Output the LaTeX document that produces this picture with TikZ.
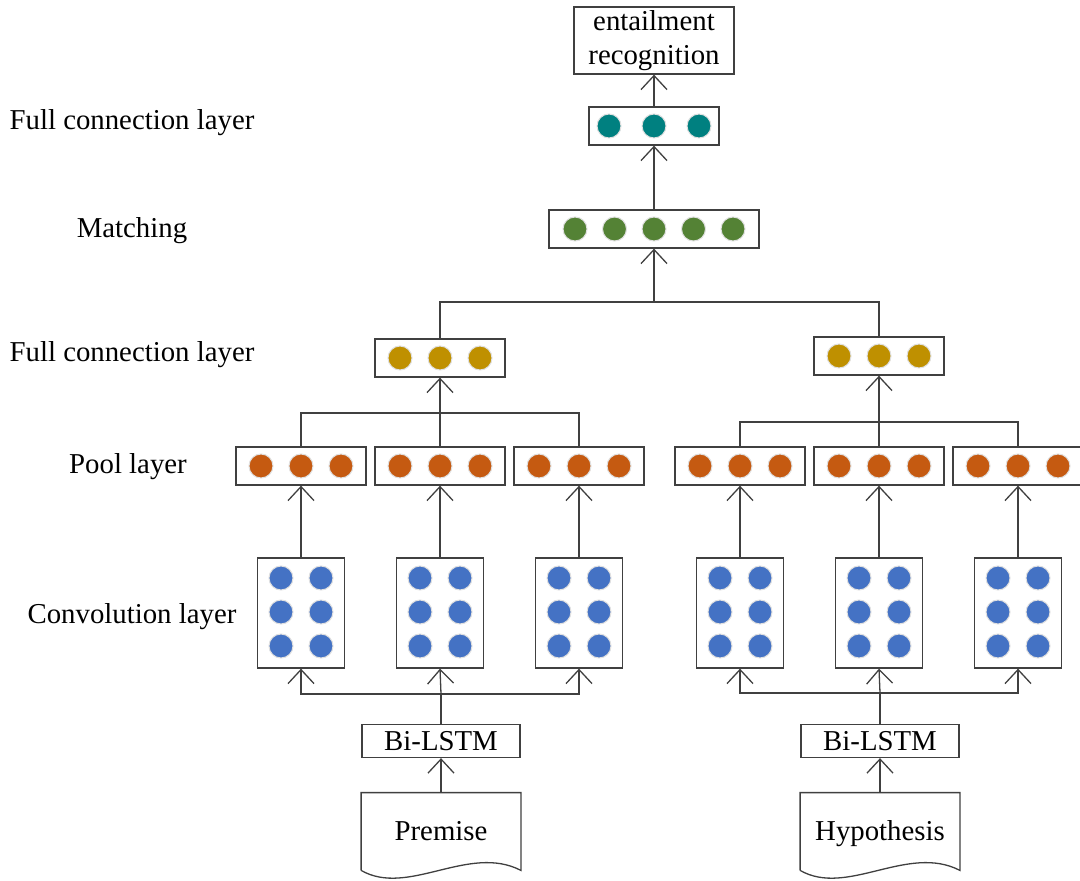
\documentclass[tikz,border=0pt]{standalone}
\usepackage{fontspec}
\setmainfont{Liberation Serif}
\usetikzlibrary{arrows.meta}

\definecolor{cTeal}{RGB}{0,128,128}
\definecolor{cGreen}{RGB}{84,130,53}
\definecolor{cGold}{RGB}{191,144,0}
\definecolor{cOrange}{RGB}{197,90,17}
\definecolor{cBlue}{RGB}{68,114,196}
\definecolor{cLine}{RGB}{64,64,64}

\begin{document}
\begin{tikzpicture}[x=0.5pt,y=-0.5pt,
  box/.style={draw=cLine, line width=0.65pt, inner sep=0pt, fill=white},
  rowbox/.style={box, minimum width=65pt, minimum height=19pt},
  convbox/.style={box, minimum width=43.5pt, minimum height=55pt},
  txt/.style={font=\fontsize{14.4}{17}\selectfont, inner sep=0pt},
  link/.style={draw=cLine, line width=0.65pt},
  up/.style={link, -{Straight Barb[length=7pt,width=13pt]}},
  dot/.style={draw=black!12, line width=0.5pt}
]
\path[use as bounding box, clip] (0,0) rectangle (1080,881);

% layer captions
\node[txt] (capfc1) at (132,123) {Full connection layer};
\node[txt] (capm)   at (132,231) {Matching};
\node[txt] (capfc2) at (132,355) {Full connection layer};
\node[txt] (capp)   at (128,467) {Pool layer};
\node[txt] (capc)   at (132,617) {Convolution layer};

% output
\node[box, txt, minimum width=80pt, minimum height=33.5pt, align=center, inner sep=0pt]
  (ent) at (654,40.5) {entailment\\recognition};

% top full connection layer
\node[box, minimum width=65pt, minimum height=19pt] (top) at (654,126) {};
\foreach \d in {-45,0,45} \fill[cTeal, dot] (654+\d,126) circle (6pt);

% matching layer
\node[box, minimum width=105pt, minimum height=19pt] (match) at (654,229) {};
\foreach \d in {-79,-39.5,0,39.5,79} \fill[cGreen, dot] (654+\d,229) circle (6pt);

% full connection layers per sentence
\node[rowbox] (fl) at (440,358) {};
\node[rowbox] (fr) at (879,356) {};
\foreach \c/\y in {440/358,879/356}
  \foreach \d in {-40,0,40} \fill[cGold, dot] (\c+\d,\y) circle (6pt);

% pool layers
\foreach \n/\c in {pl1/301,pl2/440,pl3/579,pr1/740,pr2/879,pr3/1018} {
  \node[rowbox] (\n) at (\c,466) {};
  \foreach \d in {-40,0,40} \fill[cOrange, dot] (\c+\d,466) circle (6pt);
}

% convolution layers
\foreach \n/\c in {cl1/301,cl2/440,cl3/579,cr1/740,cr2/879,cr3/1018} {
  \node[convbox] (\n) at (\c,613) {};
  \foreach \r in {578,612,646}
    \foreach \d in {-20,20} \fill[cBlue, dot] (\c+\d,\r) circle (6pt);
}

% encoders
\node[box, txt, minimum width=79pt, minimum height=16.5pt] (bl) at (441,741) {Bi-LSTM};
\node[box, txt, minimum width=79pt, minimum height=16.5pt] (br) at (880,741) {Bi-LSTM};

% input documents
\node[txt, minimum width=79.5pt, minimum height=38.5pt] (prem) at (441,831.5) {};
\node[txt, minimum width=79.5pt, minimum height=38.5pt] (hyp)  at (880,831.5) {};
\foreach \n in {prem,hyp}
  \draw[link, fill=white] (\n.south west) -- (\n.north west) -- (\n.north east) -- (\n.south east)
    .. controls +(-52,-27) and +(47,27) .. (\n.south west);
\node[txt, anchor=base] (premtext) at (441,840) {Premise};
\node[txt, anchor=base] (hyptext)  at (880,840) {Hypothesis};

% junction points
\coordinate (jl) at (441,694);
\coordinate (jr) at (880,693);
\coordinate (hl) at (440,413);
\coordinate (hr) at (879,422);
\coordinate (hm) at (654,302);

% documents to encoders
\draw[up] (prem.north) -- (bl.south);
\draw[up] (hyp.north) -- (br.south);

% encoders to convolutions
\draw[link] (bl.north) -- (jl);
\draw[up] (jl) -| (cl1.south);
\draw[up] (jl) -| (cl3.south);
\draw[up] (jl) -- (cl2.south);
\draw[link] (br.north) -- (jr);
\draw[up] (jr) -| (cr1.south);
\draw[up] (jr) -| (cr3.south);
\draw[up] (jr) -- (cr2.south);

% convolutions to pools
\foreach \c/\p in {cl1/pl1,cl2/pl2,cl3/pl3,cr1/pr1,cr2/pr2,cr3/pr3}
  \draw[up] (\c.north) -- (\p.south);

% pools to full connection
\draw[link] (pl1.north) |- (hl) -| (pl3.north);
\draw[link] (pl2.north) -- (hl);
\draw[up] (hl) -- (fl.south);
\draw[link] (pr1.north) |- (hr) -| (pr3.north);
\draw[link] (pr2.north) -- (hr);
\draw[up] (hr) -- (fr.south);

% full connection to matching and output
\draw[link] (fl.north) |- (hm) -| (fr.north);
\draw[up] (hm) -- (match.south);
\draw[up] (match.north) -- (top.south);
\draw[up] (top.north) -- (ent.south);
\end{tikzpicture}
\end{document}
